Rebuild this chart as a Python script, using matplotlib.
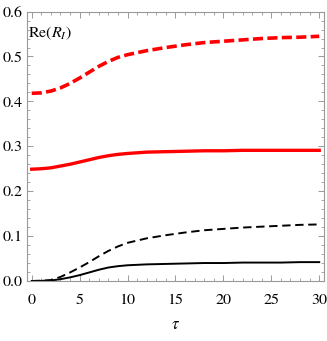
import matplotlib.pyplot as plt
from matplotlib.ticker import MultipleLocator

plt.rcParams['font.family'] = 'STIXGeneral'
plt.rcParams['mathtext.fontset'] = 'stix'

tau = [0, 1, 2, 3, 4, 5, 6, 7, 8, 9, 10, 12, 14, 16, 18, 20, 22, 24, 26, 28, 30]
red_dashed = [0.418, 0.419, 0.423, 0.430, 0.440, 0.452, 0.465, 0.478, 0.489, 0.498, 0.504,
              0.513, 0.520, 0.526, 0.531, 0.534, 0.537, 0.540, 0.542, 0.543, 0.545]
red_solid = [0.249, 0.250, 0.252, 0.256, 0.260, 0.265, 0.270, 0.275, 0.279, 0.282, 0.284,
             0.287, 0.288, 0.289, 0.290, 0.290, 0.291, 0.291, 0.291, 0.291, 0.291]
black_dashed = [0.0, 0.0005, 0.002, 0.009, 0.019, 0.030, 0.042, 0.055, 0.067, 0.077, 0.085,
                0.095, 0.102, 0.108, 0.113, 0.116, 0.119, 0.121, 0.123, 0.125, 0.126]
black_solid = [0.0, 0.0003, 0.001, 0.004, 0.008, 0.013, 0.019, 0.025, 0.030, 0.033, 0.035,
               0.037, 0.038, 0.039, 0.040, 0.040, 0.041, 0.041, 0.041, 0.042, 0.042]

fig = plt.figure(figsize=(3.27, 3.41), dpi=100)
ax = fig.add_axes([0.0817, 0.176, 0.908, 0.79])

ax.plot(tau, red_dashed, color='red', lw=2.6, dashes=(2.8, 1.2))
ax.plot(tau, red_solid, color='red', lw=2.4)
ax.plot(tau, black_dashed, color='black', lw=1.4, dashes=(4.3, 2.4))
ax.plot(tau, black_solid, color='black', lw=1.4)

ax.set_xlim(-0.52, 30.46)
ax.set_ylim(0, 0.6)
ax.xaxis.set_major_locator(MultipleLocator(5))
ax.xaxis.set_minor_locator(MultipleLocator(1))
ax.yaxis.set_major_locator(MultipleLocator(0.1))
ax.yaxis.set_minor_locator(MultipleLocator(0.02))
ax.yaxis.set_major_formatter(plt.FormatStrFormatter('%.1f'))

ax.tick_params(which='both', direction='in', top=True, right=True,
               color='#999999', labelsize=11.5, pad=3)
ax.tick_params(which='major', length=4, width=0.7)
ax.tick_params(which='minor', length=2.2, width=0.6)
ax.tick_params(axis='x', pad=9)
for s in ax.spines.values():
    s.set_color('#999999')
    s.set_linewidth(0.8)

ax.set_xlabel(r'$\tau$', fontsize=12, labelpad=7)
ax.text(0.005, 0.92, r'Re$(R_I)$', transform=ax.transAxes, fontsize=11.5,
        ha='left', va='center')

fig.savefig('out.png', dpi=100)
